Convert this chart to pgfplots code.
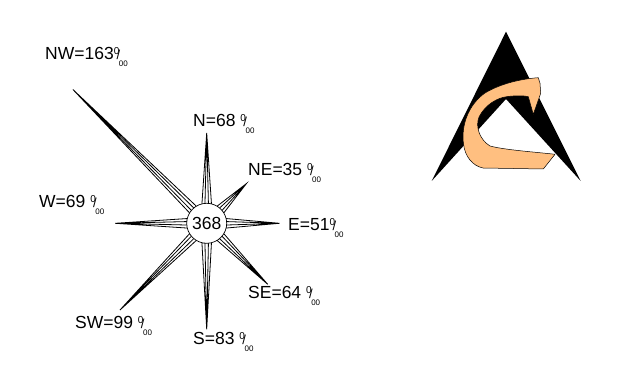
\documentclass[border=0pt]{standalone}
\usepackage{fontspec}
\setmainfont{Liberation Sans}
\usepackage{pgfplots}
\pgfplotsset{compat=1.18}
\usepgfplotslibrary{polar}
\definecolor{logoorange}{RGB}{255,191,128}
% per-mille sign in the "0/00" style of the reference
\newcommand\pmil{{\fontsize{10}{10}\selectfont\raisebox{5.2pt}{0}\kern-2.6pt{\fontsize{13}{13}\selectfont/}\kern-1.4pt\raisebox{-7pt}{\fontsize{8}{8}\selectfont 00}}}
\begin{document}
\begin{tikzpicture}[x=1pt,y=1pt,font=\fontsize{17.5}{20}\selectfont]
\useasboundingbox (0,0) rectangle (629,372);
\begin{polaraxis}[
  hide axis, scale only axis,
  width=416pt, height=416pt,
  xmin=0, xmax=360, ymin=0, ymax=200,
  clip=false,
  y filter/.expression={y+19},
  anchor=center, at={(206.7pt,148.7pt)},
  cycle list={{black,solid}},
  every axis plot post/.append style={black, solid, line width=0.8pt, mark=none, line join=miter}]
% rays: (angle +-14, 0) base, (angle, value) tip
\addplot coordinates {(104,0) (90,68) (76,0) (85,0) (90,68) (95,0)};     % N
\addplot coordinates {(59,0) (45,35) (31,0) (40,0) (45,35) (50,0)};      % NE
\addplot coordinates {(14,0) (0,51) (-14,0) (-5,0) (0,51) (5,0)};        % E
\addplot coordinates {(-31,0) (-45,64) (-59,0) (-50,0) (-45,64) (-40,0)};% SE
\addplot coordinates {(284,0) (270,83) (256,0) (265,0) (270,83) (275,0)};% S
\addplot coordinates {(239,0) (225,99) (211,0) (220,0) (225,99) (230,0)};% SW
\addplot coordinates {(194,0) (180,69) (166,0) (175,0) (180,69) (185,0)};% W
\addplot coordinates {(149,0) (135,163) (121,0) (130,0) (135,163) (140,0)};% NW
\end{polaraxis}
\node[circle, draw, fill=white, line width=0.7pt, minimum size=40pt, inner sep=0pt] at (206.7,148.7) {368};
% labels
\node[anchor=base west, inner sep=0pt] at (45,312.7) {NW=163\pmil};
\node[anchor=base west, inner sep=0pt] at (193,245) {N=68 \pmil};
\node[anchor=base west, inner sep=0pt] at (248,196.7) {NE=35 \pmil};
\node[anchor=base west, inner sep=0pt] at (39,164) {W=69 \pmil};
\node[anchor=base west, inner sep=0pt] at (288,141.4) {E=51\pmil};
\node[anchor=base west, inner sep=0pt] at (248,73) {SE=64 \pmil};
\node[anchor=base west, inner sep=0pt] at (75,43) {SW=99 \pmil};
\node[anchor=base west, inner sep=0pt] at (193,27.4) {S=83 \pmil};
% logo
\fill[black] (506,340.3) -- (580.7,191) -- (506,273) -- (431.7,191) -- cycle;
\filldraw[fill=logoorange, draw=black, line width=0.5pt, line join=round]
  (538.3,294.3) .. controls (520,293) and (500,288) .. (485,279)
  .. controls (468,267) and (461,246) .. (463.5,228)
  .. controls (465,215) and (473,206) .. (483,204)
  -- (543.3,203) -- (555,217.7)
  .. controls (535,220) and (505,222) .. (490,226)
  .. controls (480,232) and (475,245) .. (479,255)
  .. controls (485,267) and (497,274.5) .. (508,275.5)
  .. controls (516,276.5) and (524,276.5) .. (528.3,275.3)
  -- (533.3,257.7) -- (540.7,278.7) -- (540,288.7) -- cycle;
\end{tikzpicture}
\end{document}
